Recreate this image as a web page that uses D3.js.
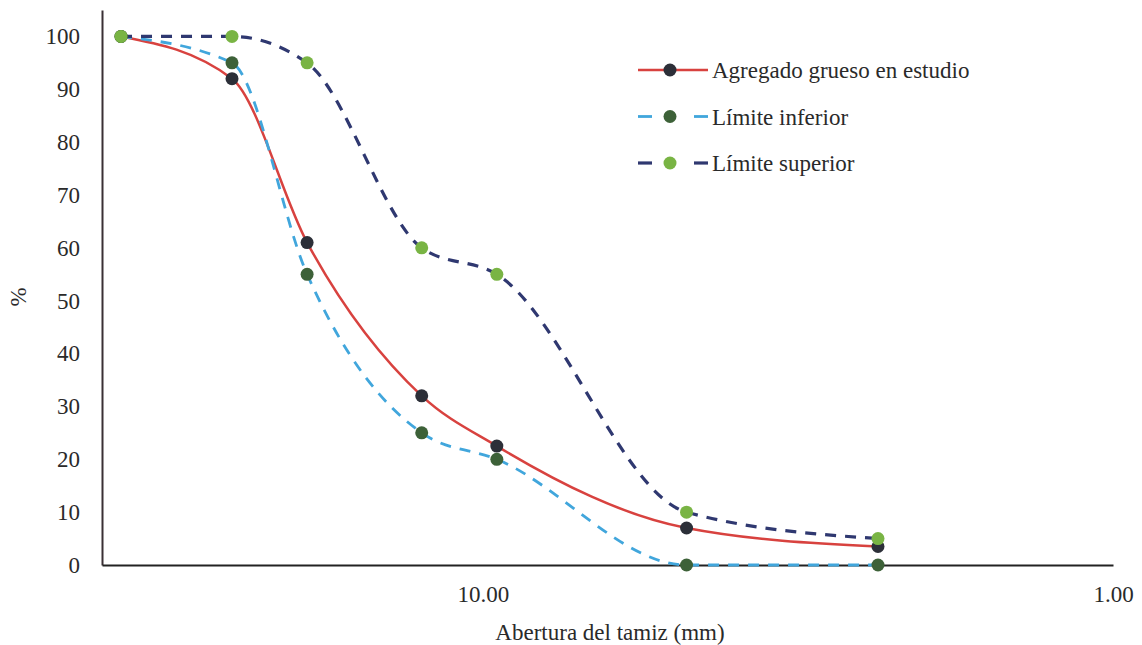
<!DOCTYPE html>
<html>
<head>
<meta charset="utf-8">
<script src="https://cdn.jsdelivr.net/npm/d3@7"></script>
<style>
  body { margin: 0; background: #fff; }
  svg text { font-family: "Liberation Serif", "Times New Roman", serif; fill: #2a2a2a; }
</style>
</head>
<body>
<div id="chart"></div>
<script>
// sieve openings (mm) and % passing
const sieves = [37.5, 25, 19, 12.5, 9.5, 4.75, 2.36];
const agregado = [100, 92, 61, 32, 22.5, 7, 3.5];
const limInferior = [100, 95, 55, 25, 20, 0, 0];
const limSuperior = [100, 100, 95, 60, 55, 10, 5];
const yTicks = [0, 10, 20, 30, 40, 50, 60, 70, 80, 90, 100];
const xTicks = [10, 1];

const width = 1142;
const height = 645;
const margin = {left: 102, right: 29, top: 10, bottom: 80};
const fontSize = "23px";

const svg = d3.select("#chart")
  .append("svg")
  .attr("width", width)
  .attr("height", height);

// log scale, reversed (big openings on the left)
const x = d3.scaleLog()
  .domain([40.2, 1])
  .range([margin.left, width - margin.right]);

const y = d3.scaleLinear()
  .domain([0, 105])
  .range([height - margin.bottom, margin.top]);

// y axis
const yAxis = svg.append("g")
  .attr("transform", `translate(${margin.left},0)`)
  .call(d3.axisLeft(y).tickValues(yTicks).tickSize(0).tickPadding(22));
yAxis.select(".domain").attr("stroke", "#3a3035").attr("stroke-width", 2);
yAxis.selectAll("text").attr("font-size", fontSize);

// x axis
const xAxis = svg.append("g")
  .attr("transform", `translate(0,${y(0)})`)
  .call(d3.axisBottom(x).tickValues(xTicks).tickFormat(d3.format(".2f")).tickSize(0).tickPadding(21));
xAxis.select(".domain").attr("stroke", "#222").attr("stroke-width", 2);
xAxis.selectAll("text").attr("font-size", fontSize);

// axis titles
svg.append("text")
  .attr("x", 610)
  .attr("y", 640)
  .attr("text-anchor", "middle")
  .attr("font-size", fontSize)
  .text("Abertura del tamiz (mm)");

svg.append("text")
  .attr("transform", "translate(26,297) rotate(-90)")
  .attr("text-anchor", "middle")
  .attr("font-size", fontSize)
  .text("%");

// series
const series = [
  {name: "Agregado grueso en estudio", values: agregado, line: "#d8423f", dash: null, width: 2.5, dot: "#2c2f38"},
  {name: "Límite inferior", values: limInferior, line: "#41a6dc", dash: "11,9", width: 2.8, dot: "#3d6138"},
  {name: "Límite superior", values: limSuperior, line: "#2f3870", dash: "11,9", width: 3.2, dot: "#79b444"}
];

const line = d3.line()
  .x(d => x(d[0]))
  .y(d => y(d[1]))
  .curve(d3.curveMonotoneX);

series.forEach(s => {
  svg.append("path")
    .datum(sieves.map((v, i) => [v, s.values[i]]))
    .attr("fill", "none")
    .attr("stroke", s.line)
    .attr("stroke-width", s.width)
    .attr("stroke-dasharray", s.dash)
    .attr("d", line);
});

series.forEach(s => {
  svg.selectAll(null)
    .data(sieves.map((v, i) => [v, s.values[i]]))
    .enter()
    .append("circle")
      .attr("cx", d => x(d[0]))
      .attr("cy", d => y(d[1]))
      .attr("r", 6.5)
      .attr("fill", s.dot);
});

// legend
const legend = svg.append("g").attr("transform", "translate(638,70)");
series.forEach((s, i) => {
  const g = legend.append("g").attr("transform", `translate(0,${i * 46.5})`);
  if (s.dash) {
    g.append("line").attr("x1", 0).attr("x2", 14).attr("stroke", s.line).attr("stroke-width", s.width);
    g.append("line").attr("x1", 56).attr("x2", 70).attr("stroke", s.line).attr("stroke-width", s.width);
  } else {
    g.append("line").attr("x1", 0).attr("x2", 70).attr("stroke", s.line).attr("stroke-width", s.width);
  }
  g.append("circle").attr("cx", 32).attr("cy", 0).attr("r", 6.5).attr("fill", s.dot);
  g.append("text")
    .attr("x", 74)
    .attr("y", 0)
    .attr("dy", "0.35em")
    .attr("font-size", fontSize)
    .text(s.name);
});
</script>
</body>
</html>
